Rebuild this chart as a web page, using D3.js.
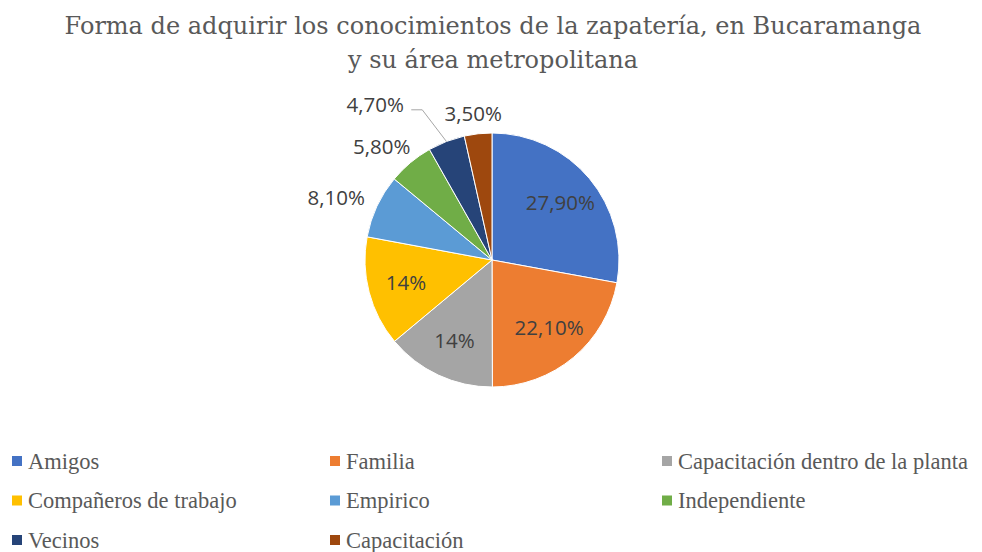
<!DOCTYPE html>
<html>
<head>
<meta charset="utf-8">
<script src="https://cdn.jsdelivr.net/npm/d3@7"></script>
<style>
  body { margin: 0; background: #fff; }
</style>
</head>
<body>
<div id="chart"></div>
<script>
// Data
const titleLines = ["Forma de adquirir los conocimientos de la zapatería, en Bucaramanga", "y su área metropolitana"];
const categories = ["Amigos", "Familia", "Capacitación dentro de la planta", "Compañeros de trabajo", "Empirico", "Independiente", "Vecinos", "Capacitación"];
const values = [27.9, 22.1, 14, 14, 8.1, 5.8, 4.7, 3.5];
const valueLabels = ["27,90%", "22,10%", "14%", "14%", "8,10%", "5,80%", "4,70%", "3,50%"];
const colors = ["#4472c4", "#ed7d31", "#a5a5a5", "#ffc000", "#5b9bd5", "#70ad47", "#264478", "#9e480e"];

const width = 982, height = 552;
const cx = 492, cy = 260, radius = 127;

const svg = d3.select("#chart")
  .append("svg")
  .attr("width", width)
  .attr("height", height);

// Title
svg.append("g")
  .selectAll("text")
  .data(titleLines)
  .join("text")
  .attr("x", width / 2 + 2)
  .attr("y", (d, i) => 34 + i * 34)
  .attr("text-anchor", "middle")
  .attr("font-family", "'DejaVu Serif', serif")
  .attr("font-size", 24)
  .attr("fill", "#595959")
  .text(d => d);

const data = categories.map((c, i) => ({cat: c, value: values[i], label: valueLabels[i], color: colors[i]}));

const pie = d3.pie().sort(null).value(d => d.value);
const arcs = pie(data);
const arc = d3.arc().innerRadius(0).outerRadius(radius);

const g = svg.append("g").attr("transform", `translate(${cx},${cy})`);

g.selectAll("path")
  .data(arcs)
  .join("path")
  .attr("d", arc)
  .attr("fill", d => d.data.color)
  .attr("stroke", "#fff")
  .attr("stroke-width", 1);

// Labels: big slices inside, small ones outside
const labelFont = "'Open Sans', 'Liberation Sans', sans-serif";
const labelSize = 20.5;
const insideArc = d3.arc().innerRadius(radius * 0.7).outerRadius(radius * 0.7);

arcs.forEach((d, i) => {
  const mid = (d.startAngle + d.endAngle) / 2;
  let x, y;
  if (d.data.value >= 10) {
    [x, y] = insideArc.centroid(d);
  } else {
    const w = 62, h = 12;
    const r = radius + 14;
    x = Math.sin(mid) * r + Math.sin(mid) * w / 2;
    y = -Math.cos(mid) * r - Math.cos(mid) * h / 2;
    if (d.data.label === "4,70%") {
      // moved out of the way with a leader line
      x -= 55; y -= 18;
      const ex = Math.sin(mid) * radius, ey = -Math.cos(mid) * radius;
      g.append("polyline")
        .attr("points", `${x + 36},${y + 5} ${x + 47},${y + 5} ${ex},${ey}`)
        .attr("fill", "none")
        .attr("stroke", "#a6a6a6")
        .attr("stroke-width", 1);
    }
  }
  g.append("text")
    .attr("x", x)
    .attr("y", y)
    .attr("dy", "0.35em")
    .attr("text-anchor", "middle")
    .attr("font-family", labelFont)
    .attr("font-size", labelSize)
    .attr("fill", "#404040")
    .text(d.data.label);
});

// Legend
const colX = [12, 330, 662];
const legend = svg.append("g");
const row = legend.selectAll("g")
  .data(data)
  .join("g")
  .attr("transform", (d, i) => `translate(${colX[i % 3]},${461 + Math.floor(i / 3) * 39.5})`);

row.append("rect")
  .attr("x", 0)
  .attr("y", -5)
  .attr("width", 10)
  .attr("height", 10)
  .attr("fill", d => d.color);

row.append("text")
  .attr("x", 16)
  .attr("y", 0)
  .attr("dy", "0.35em")
  .attr("font-family", "'Liberation Serif', 'Times New Roman', serif")
  .attr("font-size", 22.5)
  .attr("fill", "#595959")
  .text(d => d.cat);
</script>
</body>
</html>
